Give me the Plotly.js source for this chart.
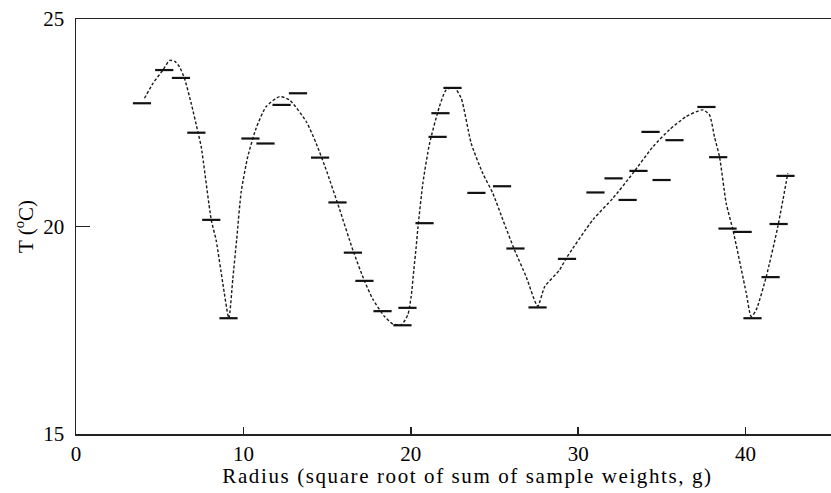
<!DOCTYPE html>
<html>
<head>
<meta charset="utf-8">
<script src="https://cdn.plot.ly/plotly-3.0.1.min.js"></script>
<style>
html,body{margin:0;padding:0;background:#fff;}
#chart{width:831px;height:493px;}
#chart .xtitle{letter-spacing:1.6px;transform:translate(14px,-2px);}
</style>
</head>
<body>
<div id="chart"></div>
<script>
// Observed mean temperature per radius bin (horizontal dash markers)
var radius = [3.94, 5.27, 6.27, 7.19, 8.08, 9.11, 10.42, 11.32, 12.28, 13.26, 14.58, 15.62, 16.54, 17.23, 18.31, 19.5, 19.8, 20.82, 21.6, 21.77, 22.49, 23.92, 25.45, 26.25, 27.57, 29.33, 31.03, 32.11, 32.95, 33.6, 34.32, 34.98, 35.75, 37.66, 38.36, 38.92, 39.82, 40.41, 41.49, 41.97, 42.38];
var temperature = [22.97, 23.77, 23.58, 22.26, 20.16, 17.79, 22.12, 22.0, 22.93, 23.21, 21.66, 20.58, 19.37, 18.69, 17.96, 17.62, 18.04, 20.08, 22.16, 22.73, 23.34, 20.81, 20.97, 19.47, 18.05, 19.22, 20.82, 21.16, 20.64, 21.34, 22.28, 21.12, 22.08, 22.88, 21.67, 19.95, 19.87, 17.79, 18.78, 20.06, 21.22];

// Smoothed curve (dashed line)
var curveX = [4.09, 4.6, 5.19, 5.59, 5.9, 6.18, 6.48, 6.88, 7.28, 7.48, 8.08, 8.37, 8.77, 9.13, 9.37, 9.6, 9.87, 10.26, 10.76, 11.36, 12.16, 12.75, 13.75, 14.35, 15.0, 15.74, 16.54, 17.23, 17.73, 18.43, 18.93, 19.43, 19.82, 20.02, 20.18, 20.32, 20.42, 20.72, 21.12, 21.71, 22.11, 22.61, 23.01, 23.61, 24.3, 24.9, 25.5, 26.2, 26.89, 27.58, 28.0, 28.88, 29.28, 30.87, 32.07, 33.26, 34.46, 35.45, 36.45, 37.44, 37.84, 38.14, 38.44, 38.84, 39.24, 40.04, 40.33, 40.63, 41.23, 41.92, 42.52];
var curveY = [23.09, 23.45, 23.77, 24.0, 23.98, 23.85, 23.57, 22.97, 22.28, 21.92, 20.16, 19.67, 18.63, 17.79, 18.75, 19.7, 20.84, 21.68, 22.37, 22.89, 23.13, 23.05, 22.53, 22.0, 21.3, 20.42, 19.43, 18.69, 18.25, 17.83, 17.65, 17.63, 17.87, 18.31, 18.95, 19.51, 19.95, 21.04, 22.0, 22.89, 23.29, 23.34, 23.09, 22.0, 21.28, 20.8, 20.16, 19.43, 18.79, 18.08, 18.55, 18.95, 19.23, 20.16, 20.68, 21.28, 21.92, 22.33, 22.65, 22.81, 22.69, 22.16, 21.68, 20.56, 19.92, 18.39, 17.83, 17.99, 18.79, 19.99, 21.28];

var xTicks = [0, 10, 20, 30, 40];
var yTicks = [15, 20, 25];

var font = {family: '"Liberation Serif", "Times New Roman", serif', color: '#000'};

var traces = [
  {
    x: curveX, y: curveY, type: 'scatter', mode: 'lines',
    line: {color: '#1a1a1a', width: 1.4, dash: '3px,2px', shape: 'spline', smoothing: 0.6},
    hoverinfo: 'skip'
  },
  {
    x: radius, y: temperature, type: 'scatter', mode: 'markers',
    marker: {symbol: 'line-ew', size: 13, color: '#111', line: {color: '#111', width: 2.2}}
  }
];

var layout = {
  width: 831, height: 493,
  margin: {l: 76, r: 0, t: 19, b: 59},
  paper_bgcolor: '#fff', plot_bgcolor: '#fff',
  showlegend: false,
  font: Object.assign({size: 21}, font),
  xaxis: {
    range: [0, 45.1], tickvals: xTicks, ticktext: xTicks.map(String),
    showgrid: false, zeroline: false,
    showline: true, linecolor: '#222', linewidth: 1.5, mirror: true,
    ticks: 'inside', ticklen: 7, tickcolor: '#222', tickwidth: 1.5,
    tickfont: Object.assign({size: 21}, font),
    ticklabelstandoff: 0,
    title: {text: 'Radius (square root of sum of sample weights, g)', font: Object.assign({size: 21}, font), standoff: 0}
  },
  yaxis: {
    range: [15, 25], tickvals: yTicks, ticktext: yTicks.map(String),
    showgrid: false, zeroline: false,
    showline: true, linecolor: '#222', linewidth: 1.5, mirror: false,
    ticks: 'inside', ticklen: 14, tickcolor: '#222', tickwidth: 1.5,
    tickfont: Object.assign({size: 21}, font),
    ticklabelstandoff: 6,
    title: {text: 'T (<sup>o</sup>C)', font: Object.assign({size: 21}, font), standoff: 4}
  }
};

Plotly.newPlot('chart', traces, layout, {displayModeBar: false, staticPlot: true});
</script>
</body>
</html>
